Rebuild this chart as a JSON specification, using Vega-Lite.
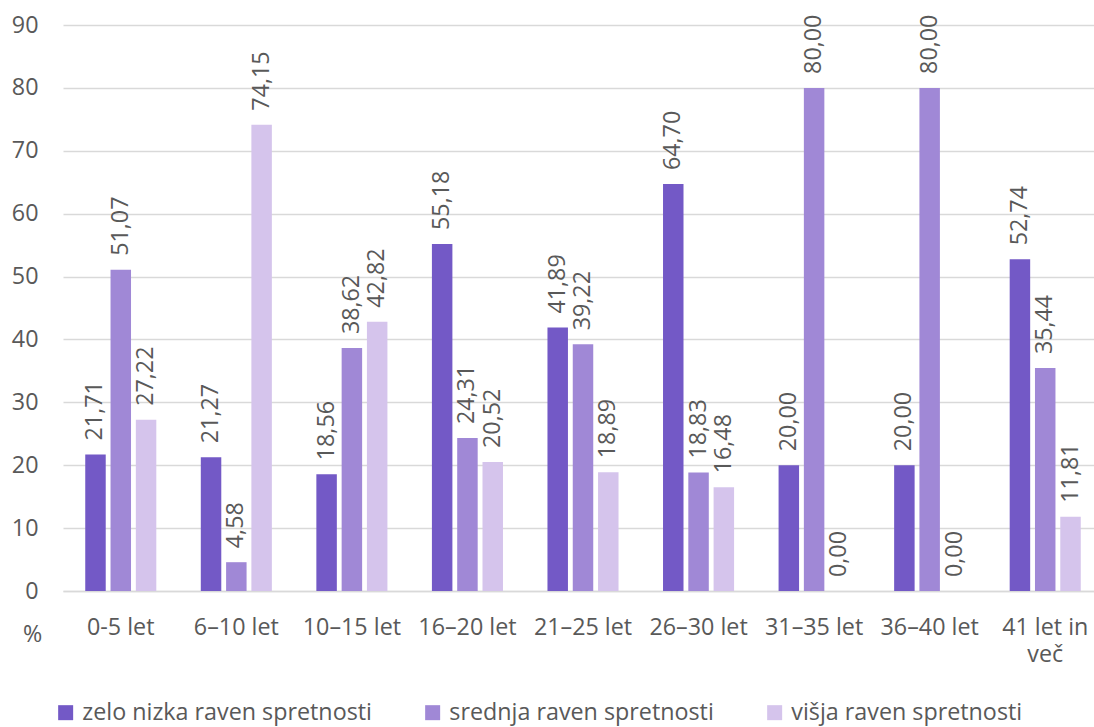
{
  "$schema": "https://vega.github.io/schema/vega-lite/v6.json",
  "width": 1040,
  "height": 566,
  "autosize": {"type": "none"},
  "padding": {"left": 63, "top": 25, "right": 0, "bottom": 136},
  "background": "white",
  "config": {
    "locale": {"number": {"decimal": ",", "thousands": ".", "grouping": [3], "currency": ["", " €"]}},
    "font": "Open Sans",
    "view": {"stroke": null}
  },
  "data": {
    "values": [
      {"skupina": "0-5 let", "raven": "zelo nizka raven spretnosti", "vrednost": 21.71},
      {"skupina": "0-5 let", "raven": "srednja raven spretnosti", "vrednost": 51.07},
      {"skupina": "0-5 let", "raven": "višja raven spretnosti", "vrednost": 27.22},
      {"skupina": "6–10 let", "raven": "zelo nizka raven spretnosti", "vrednost": 21.27},
      {"skupina": "6–10 let", "raven": "srednja raven spretnosti", "vrednost": 4.58},
      {"skupina": "6–10 let", "raven": "višja raven spretnosti", "vrednost": 74.15},
      {"skupina": "10–15 let", "raven": "zelo nizka raven spretnosti", "vrednost": 18.56},
      {"skupina": "10–15 let", "raven": "srednja raven spretnosti", "vrednost": 38.62},
      {"skupina": "10–15 let", "raven": "višja raven spretnosti", "vrednost": 42.82},
      {"skupina": "16–20 let", "raven": "zelo nizka raven spretnosti", "vrednost": 55.18},
      {"skupina": "16–20 let", "raven": "srednja raven spretnosti", "vrednost": 24.31},
      {"skupina": "16–20 let", "raven": "višja raven spretnosti", "vrednost": 20.52},
      {"skupina": "21–25 let", "raven": "zelo nizka raven spretnosti", "vrednost": 41.89},
      {"skupina": "21–25 let", "raven": "srednja raven spretnosti", "vrednost": 39.22},
      {"skupina": "21–25 let", "raven": "višja raven spretnosti", "vrednost": 18.89},
      {"skupina": "26–30 let", "raven": "zelo nizka raven spretnosti", "vrednost": 64.70},
      {"skupina": "26–30 let", "raven": "srednja raven spretnosti", "vrednost": 18.83},
      {"skupina": "26–30 let", "raven": "višja raven spretnosti", "vrednost": 16.48},
      {"skupina": "31–35 let", "raven": "zelo nizka raven spretnosti", "vrednost": 20.00},
      {"skupina": "31–35 let", "raven": "srednja raven spretnosti", "vrednost": 80.00},
      {"skupina": "31–35 let", "raven": "višja raven spretnosti", "vrednost": 0.00},
      {"skupina": "36–40 let", "raven": "zelo nizka raven spretnosti", "vrednost": 20.00},
      {"skupina": "36–40 let", "raven": "srednja raven spretnosti", "vrednost": 80.00},
      {"skupina": "36–40 let", "raven": "višja raven spretnosti", "vrednost": 0.00},
      {"skupina": "41 let in več", "raven": "zelo nizka raven spretnosti", "vrednost": 52.74},
      {"skupina": "41 let in več", "raven": "srednja raven spretnosti", "vrednost": 35.44},
      {"skupina": "41 let in več", "raven": "višja raven spretnosti", "vrednost": 11.81}
    ]
  },
  "encoding": {
    "x": {
      "field": "skupina",
      "type": "nominal",
      "sort": ["0-5 let", "6–10 let", "10–15 let", "16–20 let", "21–25 let", "26–30 let", "31–35 let", "36–40 let", "41 let in več"],
      "scale": {"paddingInner": 0.385, "paddingOuter": 0.1925},
      "axis": {
        "title": null,
        "labelAngle": 0,
        "labelFontSize": 23.3,
        "labelColor": "#595959",
        "labelPadding": 25,
        "labelLineHeight": 27,
        "labelExpr": "datum.label == '41 let in več' ? ['41 let in', 'več'] : datum.label",
        "ticks": false,
        "domain": true,
        "domainColor": "#d9d9d9",
        "domainWidth": 1.5,
        "grid": false
      }
    },
    "xOffset": {
      "field": "raven",
      "type": "nominal",
      "sort": ["zelo nizka raven spretnosti", "srednja raven spretnosti", "višja raven spretnosti"],
      "scale": {"paddingInner": 0.19, "paddingOuter": 0}
    },
    "y": {
      "field": "vrednost",
      "type": "quantitative",
      "scale": {"domain": [0, 90], "nice": false},
      "axis": {
        "title": "%",
        "titleAngle": 0,
        "titleX": -31,
        "titleY": 609,
        "titleAlign": "center",
        "titleBaseline": "middle",
        "titleFontSize": 23.3,
        "titleFontWeight": "normal",
        "titleColor": "#595959",
        "values": [0, 10, 20, 30, 40, 50, 60, 70, 80, 90],
        "labelFontSize": 23.3,
        "labelColor": "#595959",
        "labelPadding": 25,
        "ticks": false,
        "domain": false,
        "grid": true,
        "gridColor": "#d9d9d9",
        "gridWidth": 1.5
      }
    }
  },
  "layer": [
    {
      "mark": {"type": "bar"},
      "encoding": {
        "color": {
          "field": "raven",
          "type": "nominal",
          "sort": ["zelo nizka raven spretnosti", "srednja raven spretnosti", "višja raven spretnosti"],
          "scale": {
            "domain": ["zelo nizka raven spretnosti", "srednja raven spretnosti", "višja raven spretnosti"],
            "range": ["#7359c6", "#a088d6", "#d5c4ec"]
          },
          "legend": {
            "title": null,
            "orient": "none",
            "legendX": -9,
            "legendY": 676,
            "direction": "horizontal",
            "symbolType": "square",
            "symbolSize": 225,
            "symbolStrokeWidth": 0,
            "labelFontSize": 23.3,
            "labelColor": "#595959",
            "labelOffset": 5,
            "columnPadding": 49,
            "labelLimit": 400
          }
        }
      }
    },
    {
      "mark": {
        "type": "text",
        "angle": 270,
        "align": "left",
        "baseline": "middle",
        "dx": 14,
        "fontSize": 23.3,
        "color": "#595959"
      },
      "encoding": {
        "text": {"field": "vrednost", "type": "quantitative", "format": ".2f"}
      }
    }
  ]
}
